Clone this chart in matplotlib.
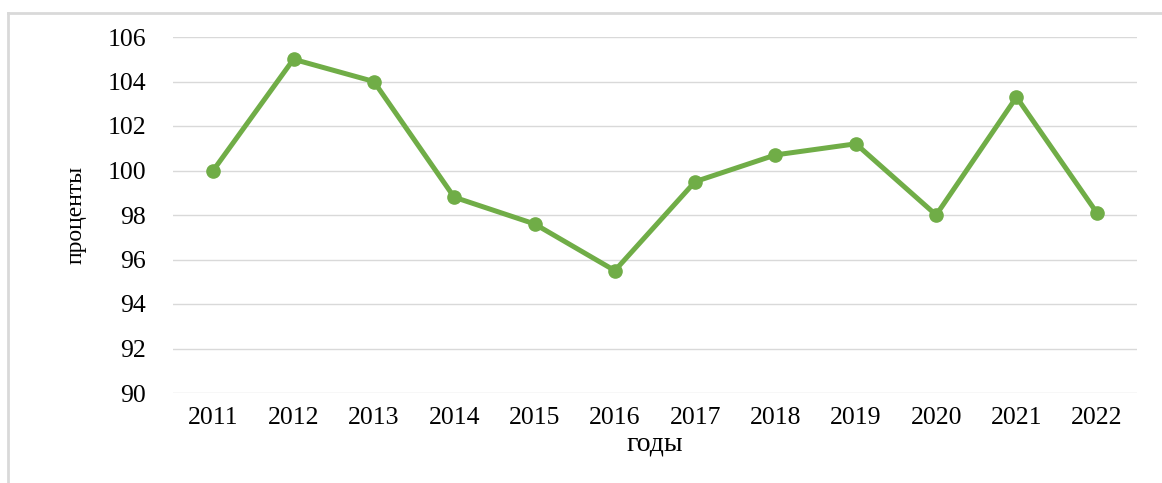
import matplotlib.pyplot as plt
from matplotlib.lines import Line2D

# --- DATA ---
years = ['2011', '2012', '2013', '2014', '2015', '2016',
         '2017', '2018', '2019', '2020', '2021', '2022']
values = [100.0, 105.0, 104.0, 98.8, 97.6, 95.5,
          99.5, 100.7, 101.2, 98.0, 103.3, 98.1]
y_ticks = [90, 92, 94, 96, 98, 100, 102, 104, 106]

GREEN = '#70AD47'
GRID = '#D9D9D9'

plt.rcParams['font.family'] = ['Liberation Serif', 'DejaVu Serif']

fig = plt.figure(figsize=(11.62, 4.83), dpi=100)
ax = fig.add_axes([173 / 1162, 1 - 393 / 483, (1137 - 173) / 1162, (393 - 37) / 483])

x = list(range(len(years)))
ax.plot(x, values, color=GREEN, linewidth=3.6, marker='o', markersize=9.5,
        markerfacecolor=GREEN, markeredgecolor=GREEN, solid_joinstyle='round', zorder=3)

ax.set_xlim(-0.5, len(years) - 0.5)
ax.set_ylim(90, 106)
ax.set_xticks(x)
ax.set_xticklabels(years)
ax.set_yticks(y_ticks)
ax.tick_params(axis='both', length=0, labelsize=18.5, colors='#000000')
ax.tick_params(axis='x', pad=10)
ax.tick_params(axis='y', pad=19.5)

ax.grid(axis='y', color=GRID, linewidth=1.0)
ax.set_axisbelow(True)
for s in ax.spines.values():
    s.set_visible(False)

ax.set_xlabel('годы', fontsize=20, labelpad=2)
ax.set_ylabel('проценты', fontsize=17, labelpad=15)

# outer frame (only left and top edges are visible in the crop)
x0 = 8 / 1162
y0 = 1 - 13 / 483
fig.add_artist(Line2D([x0, x0], [0, y0], transform=fig.transFigure, color=GRID, linewidth=2))
fig.add_artist(Line2D([x0, 1], [y0, y0], transform=fig.transFigure, color=GRID, linewidth=2))

fig.savefig('out.png', dpi=100)
